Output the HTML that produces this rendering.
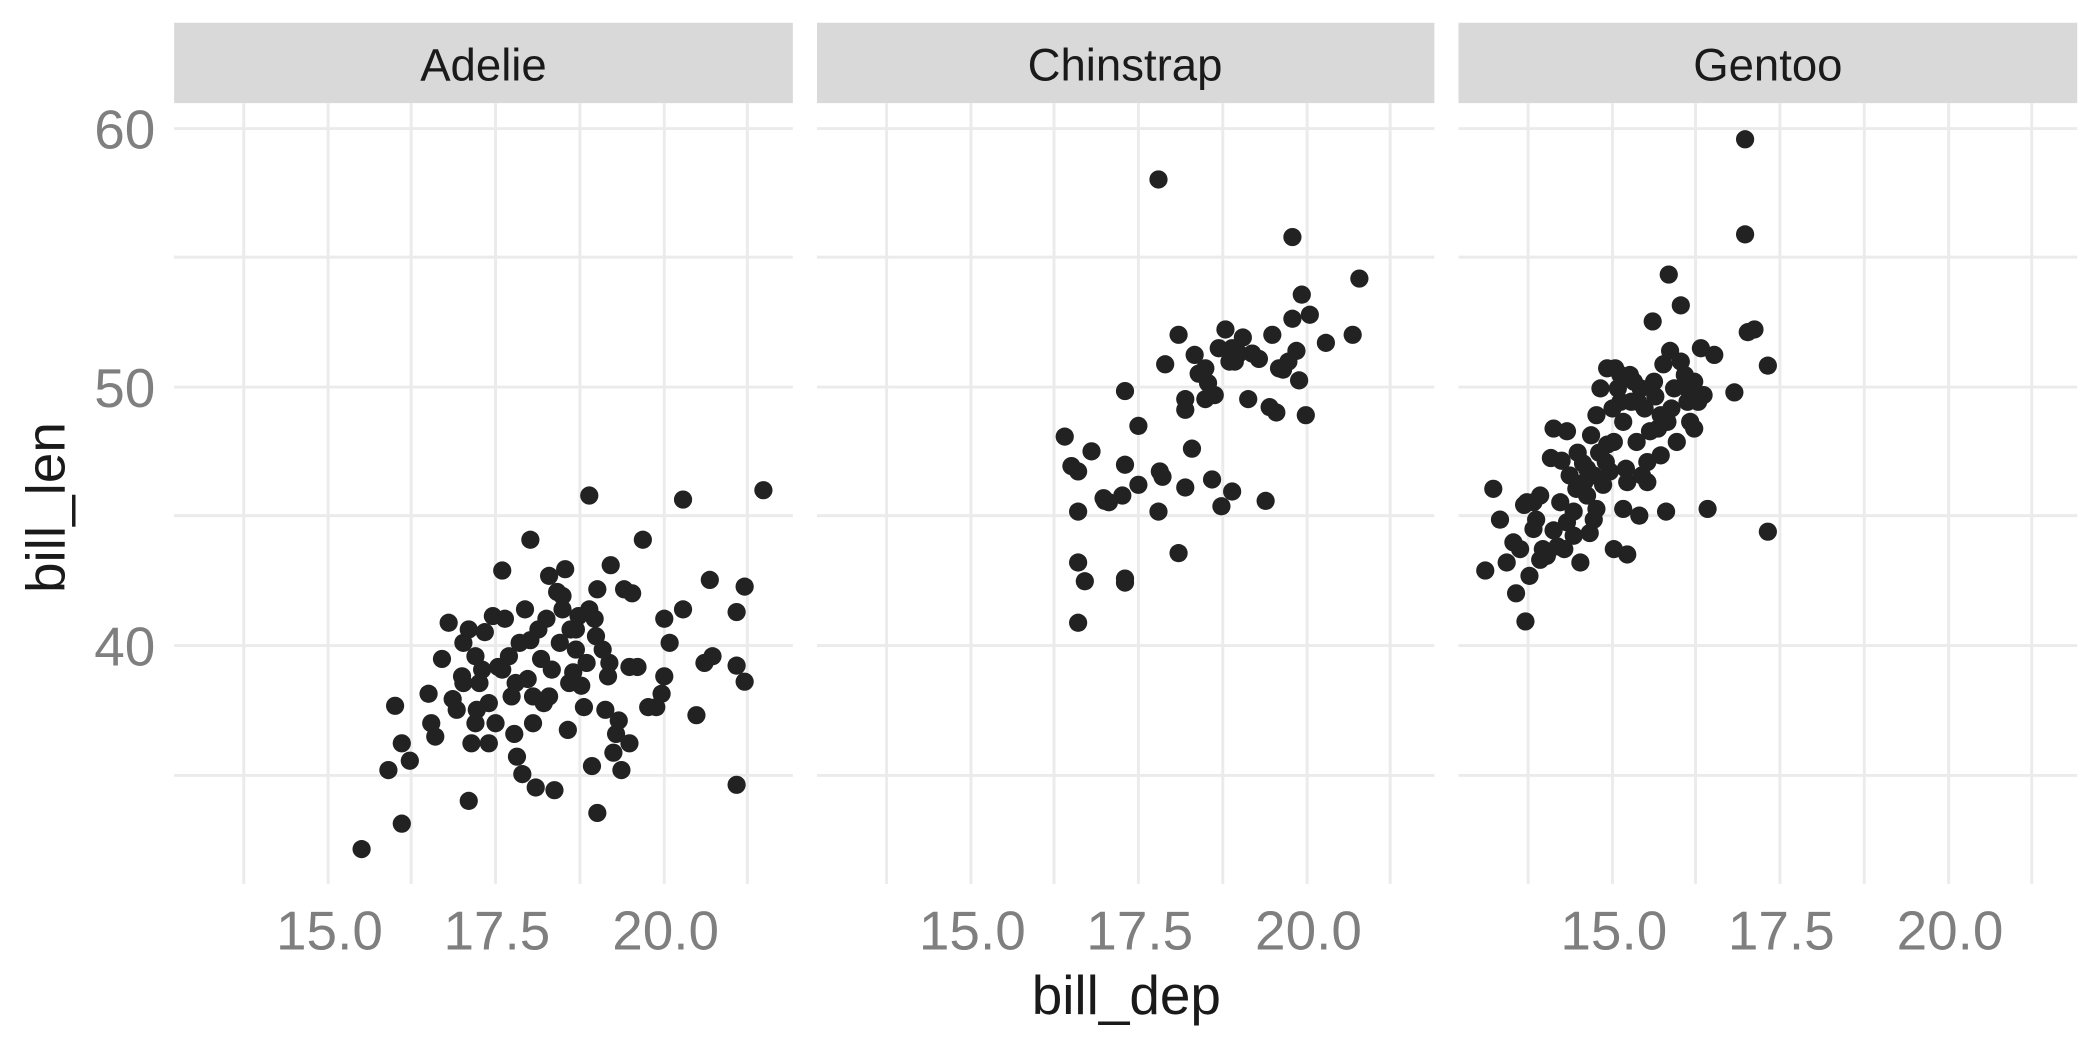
<!DOCTYPE html>
<html><head><meta charset="utf-8"><style>
html,body{margin:0;padding:0;background:#fff;}
svg{display:block;}
text{font-family:"Liberation Sans",Arial,sans-serif;}
</style></head><body>
<svg width="2100" height="1050" viewBox="0 0 1568 784" xmlns="http://www.w3.org/2000/svg">
<rect width="1568" height="784" fill="#fff"/>
<g>
<rect x="130" y="17" width="462" height="60" fill="#d9d9d9"/>
<g stroke="#ebebeb" stroke-width="2.2">
<line x1="130" x2="592" y1="96" y2="96"/><line x1="130" x2="592" y1="289" y2="289"/><line x1="130" x2="592" y1="482" y2="482"/>
<line x1="130" x2="592" y1="192" y2="192"/><line x1="130" x2="592" y1="385" y2="385"/><line x1="130" x2="592" y1="579" y2="579"/>
<line x1="182" x2="182" y1="77" y2="660"/><line x1="245" x2="245" y1="77" y2="660"/><line x1="307" x2="307" y1="77" y2="660"/><line x1="370" x2="370" y1="77" y2="660"/><line x1="433" x2="433" y1="77" y2="660"/><line x1="496" x2="496" y1="77" y2="660"/><line x1="558" x2="558" y1="77" y2="660"/>
</g>
<text x="361" y="60" font-size="34" text-anchor="middle" fill="#1a1a1a">Adelie</text>
</g>
<g transform="translate(480,0)">
<rect x="130" y="17" width="461" height="60" fill="#d9d9d9"/>
<g stroke="#ebebeb" stroke-width="2.2">
<line x1="130" x2="591" y1="96" y2="96"/><line x1="130" x2="591" y1="289" y2="289"/><line x1="130" x2="591" y1="482" y2="482"/>
<line x1="130" x2="591" y1="192" y2="192"/><line x1="130" x2="591" y1="385" y2="385"/><line x1="130" x2="591" y1="579" y2="579"/>
<line x1="182" x2="182" y1="77" y2="660"/><line x1="245" x2="245" y1="77" y2="660"/><line x1="307" x2="307" y1="77" y2="660"/><line x1="370" x2="370" y1="77" y2="660"/><line x1="433" x2="433" y1="77" y2="660"/><line x1="496" x2="496" y1="77" y2="660"/><line x1="558" x2="558" y1="77" y2="660"/>
</g>
<text x="360" y="60" font-size="34" text-anchor="middle" fill="#1a1a1a">Chinstrap</text>
</g>
<g transform="translate(959,0)">
<rect x="130" y="17" width="462" height="60" fill="#d9d9d9"/>
<g stroke="#ebebeb" stroke-width="2.2">
<line x1="130" x2="592" y1="96" y2="96"/><line x1="130" x2="592" y1="289" y2="289"/><line x1="130" x2="592" y1="482" y2="482"/>
<line x1="130" x2="592" y1="192" y2="192"/><line x1="130" x2="592" y1="385" y2="385"/><line x1="130" x2="592" y1="579" y2="579"/>
<line x1="182" x2="182" y1="77" y2="660"/><line x1="245" x2="245" y1="77" y2="660"/><line x1="307" x2="307" y1="77" y2="660"/><line x1="370" x2="370" y1="77" y2="660"/><line x1="433" x2="433" y1="77" y2="660"/><line x1="496" x2="496" y1="77" y2="660"/><line x1="558" x2="558" y1="77" y2="660"/>
</g>
<text x="361" y="60" font-size="34" text-anchor="middle" fill="#1a1a1a">Gentoo</text>
</g>
<g font-size="41" fill="#7f7f7f" text-anchor="end">
<text x="116" y="111">60</text><text x="116" y="304">50</text><text x="116" y="497">40</text>
</g>
<g font-size="41" fill="#7f7f7f" text-anchor="middle">
<text x="246" y="709">15.0</text><text x="371" y="709">17.5</text><text x="497" y="709">20.0</text>
<text x="726" y="709">15.0</text><text x="851" y="709">17.5</text><text x="977" y="709">20.0</text>
<text x="1205" y="709">15.0</text><text x="1330" y="709">17.5</text><text x="1456" y="709">20.0</text>
</g>
<text x="841" y="757" font-size="41" fill="#1a1a1a" text-anchor="middle">bill_dep</text>
<text transform="translate(48,379) rotate(-90)" font-size="41" fill="#1a1a1a" text-anchor="middle">bill_len</text>
<g fill="#222">
<!-- Adelie -->
<circle cx="270" cy="634" r="6.8"/><circle cx="300" cy="615" r="6.8"/><circle cx="290" cy="575" r="6.8"/><circle cx="295" cy="527" r="6.8"/><circle cx="300" cy="555" r="6.8"/><circle cx="306" cy="568" r="6.8"/><circle cx="320" cy="518" r="6.8"/><circle cx="322" cy="540" r="6.8"/><circle cx="325" cy="550" r="6.8"/><circle cx="330" cy="492" r="6.8"/><circle cx="335" cy="465" r="6.8"/><circle cx="338" cy="522" r="6.8"/><circle cx="341" cy="530" r="6.8"/><circle cx="345" cy="505" r="6.8"/><circle cx="346" cy="480" r="6.8"/><circle cx="350" cy="598" r="6.8"/><circle cx="350" cy="470" r="6.8"/><circle cx="352" cy="555" r="6.8"/><circle cx="355" cy="490" r="6.8"/><circle cx="356" cy="530" r="6.8"/><circle cx="358" cy="510" r="6.8"/><circle cx="360" cy="500" r="6.8"/><circle cx="362" cy="472" r="6.8"/><circle cx="365" cy="555" r="6.8"/><circle cx="368" cy="460" r="6.8"/><circle cx="370" cy="540" r="6.8"/><circle cx="372" cy="498" r="6.8"/><circle cx="375" cy="426" r="6.8"/><circle cx="377" cy="462" r="6.8"/><circle cx="380" cy="490" r="6.8"/><circle cx="382" cy="520" r="6.8"/><circle cx="384" cy="548" r="6.8"/><circle cx="386" cy="565" r="6.8"/><circle cx="388" cy="480" r="6.8"/><circle cx="390" cy="578" r="6.8"/><circle cx="392" cy="455" r="6.8"/><circle cx="394" cy="507" r="6.8"/><circle cx="396" cy="403" r="6.8"/><circle cx="398" cy="540" r="6.8"/><circle cx="400" cy="588" r="6.8"/><circle cx="402" cy="470" r="6.8"/><circle cx="404" cy="492" r="6.8"/><circle cx="406" cy="525" r="6.8"/><circle cx="408" cy="462" r="6.8"/><circle cx="410" cy="520" r="6.8"/><circle cx="412" cy="500" r="6.8"/><circle cx="414" cy="590" r="6.8"/><circle cx="416" cy="442" r="6.8"/><circle cx="418" cy="480" r="6.8"/><circle cx="420" cy="455" r="6.8"/><circle cx="422" cy="425" r="6.8"/><circle cx="424" cy="545" r="6.8"/><circle cx="426" cy="470" r="6.8"/><circle cx="428" cy="502" r="6.8"/><circle cx="430" cy="485" r="6.8"/><circle cx="432" cy="460" r="6.8"/><circle cx="434" cy="512" r="6.8"/><circle cx="436" cy="528" r="6.8"/><circle cx="438" cy="495" r="6.8"/><circle cx="440" cy="370" r="6.8"/><circle cx="442" cy="572" r="6.8"/><circle cx="444" cy="462" r="6.8"/><circle cx="446" cy="440" r="6.8"/><circle cx="446" cy="607" r="6.8"/><circle cx="450" cy="485" r="6.8"/><circle cx="452" cy="530" r="6.8"/><circle cx="454" cy="505" r="6.8"/><circle cx="456" cy="422" r="6.8"/><circle cx="458" cy="562" r="6.8"/><circle cx="460" cy="548" r="6.8"/><circle cx="462" cy="538" r="6.8"/><circle cx="464" cy="575" r="6.8"/><circle cx="466" cy="440" r="6.8"/><circle cx="470" cy="555" r="6.8"/><circle cx="470" cy="498" r="6.8"/><circle cx="472" cy="443" r="6.8"/><circle cx="476" cy="498" r="6.8"/><circle cx="480" cy="403" r="6.8"/><circle cx="484" cy="528" r="6.8"/><circle cx="490" cy="528" r="6.8"/><circle cx="494" cy="518" r="6.8"/><circle cx="496" cy="505" r="6.8"/><circle cx="496" cy="462" r="6.8"/><circle cx="500" cy="480" r="6.8"/><circle cx="510" cy="373" r="6.8"/><circle cx="510" cy="455" r="6.8"/><circle cx="520" cy="534" r="6.8"/><circle cx="526" cy="495" r="6.8"/><circle cx="530" cy="433" r="6.8"/><circle cx="532" cy="490" r="6.8"/><circle cx="550" cy="586" r="6.8"/><circle cx="550" cy="457" r="6.8"/><circle cx="550" cy="497" r="6.8"/><circle cx="556" cy="438" r="6.8"/><circle cx="556" cy="509" r="6.8"/><circle cx="570" cy="366" r="6.8"/><circle cx="396" cy="478" r="6.8"/><circle cx="410" cy="430" r="6.8"/><circle cx="420" cy="445" r="6.8"/><circle cx="430" cy="470" r="6.8"/><circle cx="445" cy="475" r="6.8"/><circle cx="455" cy="495" r="6.8"/><circle cx="385" cy="510" r="6.8"/><circle cx="375" cy="500" r="6.8"/><circle cx="365" cy="525" r="6.8"/><circle cx="355" cy="540" r="6.8"/><circle cx="440" cy="455" r="6.8"/><circle cx="425" cy="510" r="6.8"/><circle cx="346" cy="510" r="6.8"/><circle cx="398" cy="520" r="6.8"/>
<!-- Chinstrap -->
<circle cx="795" cy="326" r="6.8"/><circle cx="800" cy="348" r="6.8"/><circle cx="805" cy="352" r="6.8"/><circle cx="805" cy="382" r="6.8"/><circle cx="805" cy="420" r="6.8"/><circle cx="810" cy="434" r="6.8"/><circle cx="805" cy="465" r="6.8"/><circle cx="815" cy="337" r="6.8"/><circle cx="824" cy="372" r="6.8"/><circle cx="828" cy="375" r="6.8"/><circle cx="838" cy="370" r="6.8"/><circle cx="840" cy="292" r="6.8"/><circle cx="840" cy="347" r="6.8"/><circle cx="840" cy="435" r="6.8"/><circle cx="850" cy="318" r="6.8"/><circle cx="850" cy="362" r="6.8"/><circle cx="866" cy="352" r="6.8"/><circle cx="865" cy="382" r="6.8"/><circle cx="868" cy="356" r="6.8"/><circle cx="870" cy="272" r="6.8"/><circle cx="865" cy="134" r="6.8"/><circle cx="880" cy="413" r="6.8"/><circle cx="880" cy="250" r="6.8"/><circle cx="885" cy="298" r="6.8"/><circle cx="885" cy="306" r="6.8"/><circle cx="885" cy="364" r="6.8"/><circle cx="890" cy="335" r="6.8"/><circle cx="892" cy="265" r="6.8"/><circle cx="895" cy="279" r="6.8"/><circle cx="900" cy="298" r="6.8"/><circle cx="902" cy="286" r="6.8"/><circle cx="905" cy="358" r="6.8"/><circle cx="907" cy="295" r="6.8"/><circle cx="910" cy="260" r="6.8"/><circle cx="912" cy="378" r="6.8"/><circle cx="915" cy="246" r="6.8"/><circle cx="918" cy="270" r="6.8"/><circle cx="920" cy="367" r="6.8"/><circle cx="922" cy="270" r="6.8"/><circle cx="925" cy="264" r="6.8"/><circle cx="928" cy="252" r="6.8"/><circle cx="932" cy="298" r="6.8"/><circle cx="935" cy="264" r="6.8"/><circle cx="940" cy="268" r="6.8"/><circle cx="945" cy="374" r="6.8"/><circle cx="948" cy="304" r="6.8"/><circle cx="950" cy="250" r="6.8"/><circle cx="953" cy="308" r="6.8"/><circle cx="955" cy="275" r="6.8"/><circle cx="958" cy="276" r="6.8"/><circle cx="962" cy="270" r="6.8"/><circle cx="965" cy="238" r="6.8"/><circle cx="965" cy="177" r="6.8"/><circle cx="968" cy="262" r="6.8"/><circle cx="970" cy="284" r="6.8"/><circle cx="972" cy="220" r="6.8"/><circle cx="975" cy="310" r="6.8"/><circle cx="978" cy="235" r="6.8"/><circle cx="990" cy="256" r="6.8"/><circle cx="1010" cy="250" r="6.8"/><circle cx="1015" cy="208" r="6.8"/><circle cx="920" cy="260" r="6.8"/><circle cx="900" cy="275" r="6.8"/><circle cx="840" cy="432" r="6.8"/><circle cx="825" cy="374" r="6.8"/>
<!-- Gentoo -->
<circle cx="1109" cy="426" r="6.8"/><circle cx="1115" cy="365" r="6.8"/><circle cx="1120" cy="388" r="6.8"/><circle cx="1125" cy="420" r="6.8"/><circle cx="1130" cy="405" r="6.8"/><circle cx="1132" cy="443" r="6.8"/><circle cx="1135" cy="410" r="6.8"/><circle cx="1138" cy="377" r="6.8"/><circle cx="1140" cy="375" r="6.8"/><circle cx="1139" cy="464" r="6.8"/><circle cx="1142" cy="430" r="6.8"/><circle cx="1145" cy="375" r="6.8"/><circle cx="1147" cy="388" r="6.8"/><circle cx="1150" cy="418" r="6.8"/><circle cx="1152" cy="410" r="6.8"/><circle cx="1155" cy="415" r="6.8"/><circle cx="1158" cy="342" r="6.8"/><circle cx="1160" cy="320" r="6.8"/><circle cx="1163" cy="408" r="6.8"/><circle cx="1165" cy="375" r="6.8"/><circle cx="1166" cy="344" r="6.8"/><circle cx="1168" cy="410" r="6.8"/><circle cx="1170" cy="322" r="6.8"/><circle cx="1172" cy="355" r="6.8"/><circle cx="1175" cy="382" r="6.8"/><circle cx="1177" cy="365" r="6.8"/><circle cx="1178" cy="338" r="6.8"/><circle cx="1180" cy="420" r="6.8"/><circle cx="1182" cy="346" r="6.8"/><circle cx="1183" cy="360" r="6.8"/><circle cx="1185" cy="370" r="6.8"/><circle cx="1187" cy="398" r="6.8"/><circle cx="1188" cy="325" r="6.8"/><circle cx="1190" cy="388" r="6.8"/><circle cx="1192" cy="310" r="6.8"/><circle cx="1194" cy="338" r="6.8"/><circle cx="1195" cy="290" r="6.8"/><circle cx="1197" cy="362" r="6.8"/><circle cx="1199" cy="345" r="6.8"/><circle cx="1200" cy="332" r="6.8"/><circle cx="1202" cy="352" r="6.8"/><circle cx="1204" cy="305" r="6.8"/><circle cx="1205" cy="330" r="6.8"/><circle cx="1206" cy="275" r="6.8"/><circle cx="1208" cy="290" r="6.8"/><circle cx="1210" cy="300" r="6.8"/><circle cx="1212" cy="315" r="6.8"/><circle cx="1214" cy="350" r="6.8"/><circle cx="1215" cy="414" r="6.8"/><circle cx="1217" cy="280" r="6.8"/><circle cx="1218" cy="300" r="6.8"/><circle cx="1220" cy="285" r="6.8"/><circle cx="1222" cy="330" r="6.8"/><circle cx="1224" cy="385" r="6.8"/><circle cx="1226" cy="355" r="6.8"/><circle cx="1228" cy="305" r="6.8"/><circle cx="1230" cy="345" r="6.8"/><circle cx="1232" cy="322" r="6.8"/><circle cx="1234" cy="240" r="6.8"/><circle cx="1236" cy="296" r="6.8"/><circle cx="1238" cy="320" r="6.8"/><circle cx="1240" cy="310" r="6.8"/><circle cx="1242" cy="272" r="6.8"/><circle cx="1244" cy="382" r="6.8"/><circle cx="1246" cy="205" r="6.8"/><circle cx="1247" cy="262" r="6.8"/><circle cx="1248" cy="305" r="6.8"/><circle cx="1250" cy="290" r="6.8"/><circle cx="1252" cy="330" r="6.8"/><circle cx="1255" cy="228" r="6.8"/><circle cx="1258" cy="280" r="6.8"/><circle cx="1260" cy="290" r="6.8"/><circle cx="1262" cy="315" r="6.8"/><circle cx="1265" cy="285" r="6.8"/><circle cx="1268" cy="300" r="6.8"/><circle cx="1270" cy="260" r="6.8"/><circle cx="1272" cy="295" r="6.8"/><circle cx="1275" cy="380" r="6.8"/><circle cx="1280" cy="265" r="6.8"/><circle cx="1295" cy="293" r="6.8"/><circle cx="1303" cy="104" r="6.8"/><circle cx="1303" cy="175" r="6.8"/><circle cx="1305" cy="248" r="6.8"/><circle cx="1310" cy="246" r="6.8"/><circle cx="1320" cy="273" r="6.8"/><circle cx="1320" cy="397" r="6.8"/><circle cx="1200" cy="275" r="6.8"/><circle cx="1210" cy="280" r="6.8"/><circle cx="1215" cy="360" r="6.8"/><circle cx="1185" cy="350" r="6.8"/><circle cx="1175" cy="400" r="6.8"/><circle cx="1160" cy="396" r="6.8"/><circle cx="1150" cy="370" r="6.8"/><circle cx="1225" cy="290" r="6.8"/><circle cx="1245" cy="315" r="6.8"/><circle cx="1255" cy="270" r="6.8"/><circle cx="1265" cy="320" r="6.8"/><circle cx="1230" cy="360" r="6.8"/><circle cx="1190" cy="355" r="6.8"/><circle cx="1170" cy="390" r="6.8"/><circle cx="1145" cy="395" r="6.8"/><circle cx="1205" cy="410" r="6.8"/><circle cx="1235" cy="285" r="6.8"/><circle cx="1260" cy="300" r="6.8"/><circle cx="1240" cy="340" r="6.8"/><circle cx="1223" cy="300" r="6.8"/><circle cx="1212" cy="380" r="6.8"/><circle cx="1192" cy="380" r="6.8"/>
</g>
</svg>
</body></html>
